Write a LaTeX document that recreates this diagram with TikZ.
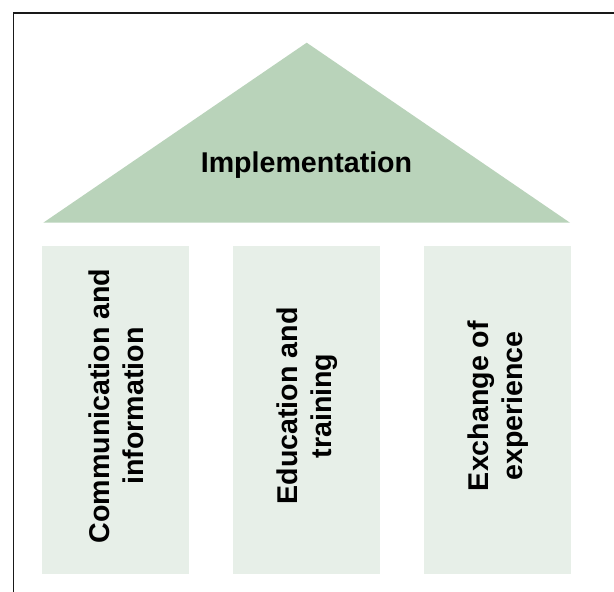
\documentclass[tikz,border=0pt]{standalone}
\usepackage{fontspec}
\setmainfont{Liberation Sans}
\definecolor{roofgreen}{RGB}{185,211,186}
\definecolor{pillargreen}{RGB}{231,239,232}
\begin{document}
\begin{tikzpicture}[x=1pt,y=-1pt,
  pillar/.style={fill=pillargreen, draw=none},
  pillartext/.style={rotate=90, align=center, font=\fontsize{28.6}{34}\selectfont\bfseries, text=black, inner sep=0pt},
  rooftext/.style={font=\fontsize{28.6}{34}\selectfont\bfseries, text=black, inner sep=0pt}]
\useasboundingbox (0,0) rectangle (614,592);
% frame (only top and left visible)
\draw[line width=1.6pt, black!90] (614,12.7) -- (13.5,12.7) -- (13.5,592);
% roof
\fill[roofgreen] (43.3,222.7) -- (306.7,42.7) -- (570,222.7) -- cycle;
\node[rooftext, anchor=base] (roof) at (306.5,172.3) {Implementation};
% pillars
\fill[pillar] (42.3,246) rectangle (188.7,573.7);
\fill[pillar] (233.3,246) rectangle (380,573.7);
\fill[pillar] (424,246) rectangle (571,573.7);
\node[pillartext] (p1) at (116.5,406) {Communication and\\information};
\node[pillartext] (p2) at (307.5,406) {Education and\\training};
\node[pillartext] (p3) at (498.5,406) {Exchange of\\experience};
\end{tikzpicture}
\end{document}
